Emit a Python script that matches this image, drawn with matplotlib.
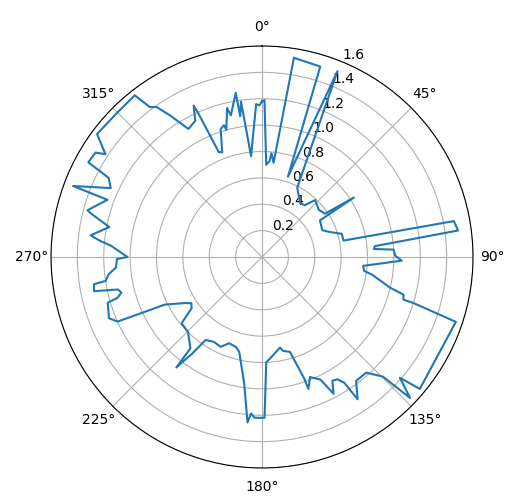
import numpy as np
import matplotlib
matplotlib.use("Agg")
import matplotlib.pyplot as plt

# angle in degrees (clockwise from north) and radius
theta_deg = [
    0.0, 0.9, 2.6, 4.5, 5.2, 7.0, 9.1, 17.0, 17.9, 22.1, 26.9,
    35.3, 39.6, 43.0, 50.3, 55.5, 57.1, 57.7, 66.0, 69.9, 73.8, 78.6,
    79.4, 82.3, 84.5, 85.9, 86.8, 89.4, 91.5, 95.0, 97.7, 99.0, 101.4,
    103.5, 104.9, 106.8, 106.9, 108.5, 129.9, 131.2, 133.6, 134.7, 138.0,
    142.8, 146.1, 146.8, 148.3, 150.4, 152.4, 154.5, 158.2, 160.6, 160.9,
    163.6, 167.3, 168.8, 173.6, 177.7, 179.1, 182.7, 184.0, 185.0, 188.0,
    193.5, 196.2, 200.9, 204.7, 209.6, 214.2, 215.8, 217.8, 218.1, 224.5,
    230.5, 234.0, 236.8, 239.1, 243.9, 245.9, 248.2, 253.5, 254.2, 255.8,
    257.3, 258.5, 260.8, 261.3, 263.6, 265.9, 269.2, 270.0, 274.3, 275.8,
    277.2, 281.1, 284.3, 285.0, 290.3, 290.6, 294.5, 297.3, 298.6, 302.1,
    303.3, 306.7, 314.4, 321.8, 323.2, 324.9, 327.0, 330.1, 333.9, 335.7,
    336.1, 337.6, 339.2, 342.1, 343.9, 344.3, 346.8, 347.6, 350.9, 351.2,
    352.3, 353.8, 357.8, 359.0, 360.0,
]
radius = [
    1.18, 1.19, 0.70, 0.73, 0.79, 0.72, 1.53, 1.51, 0.64, 1.52, 0.59,
    0.50, 0.51, 0.59, 0.56, 0.58, 0.83, 0.52, 0.50, 0.55, 0.63, 0.63,
    1.48, 1.50, 0.86, 0.85, 1.00, 1.01, 1.06, 0.77, 0.78, 0.84, 0.92,
    1.00, 1.11, 1.12, 1.20, 1.55, 1.56, 1.39, 1.55, 1.29, 1.18,
    1.18, 1.30, 1.14, 1.09, 1.08, 1.17, 1.03, 0.98, 1.06, 0.97,
    0.75, 0.73, 0.70, 0.75, 0.80, 1.22, 1.22, 1.19, 1.26, 0.97,
    0.74, 0.71, 0.70, 0.75, 0.74, 0.76, 0.90, 1.06, 0.88, 0.80,
    0.79, 0.66, 0.64, 0.68, 0.82, 1.20, 1.25, 1.22, 1.14, 1.10,
    1.12, 1.30, 1.29, 1.20, 1.17, 1.11, 1.10, 1.02, 1.15, 1.24,
    1.31, 1.18, 1.34, 1.37, 1.25, 1.53, 1.26, 1.31, 1.50, 1.49,
    1.42, 1.56, 1.55, 1.56, 1.42, 1.39, 1.28, 1.12, 1.15, 1.26,
    1.19, 0.86, 0.85, 1.02, 1.04, 1.00, 1.16, 1.10, 1.26, 1.08,
    1.19, 0.77, 1.16, 1.15, 1.18,
]
r_ticks = [0.2, 0.4, 0.6, 0.8, 1.0, 1.2, 1.4, 1.6]

fig = plt.figure(figsize=(5.1, 5.0), dpi=100)
ax = fig.add_axes([0.1, 0.064, 0.8275, 0.844], projection="polar")
ax.set_theta_zero_location("N")
ax.set_theta_direction(-1)

ax.plot(np.deg2rad(theta_deg), radius)

ax.set_ylim(0, 1.6)
ax.set_yticks(r_ticks)
ax.grid(True)

fig.savefig("out.png")
